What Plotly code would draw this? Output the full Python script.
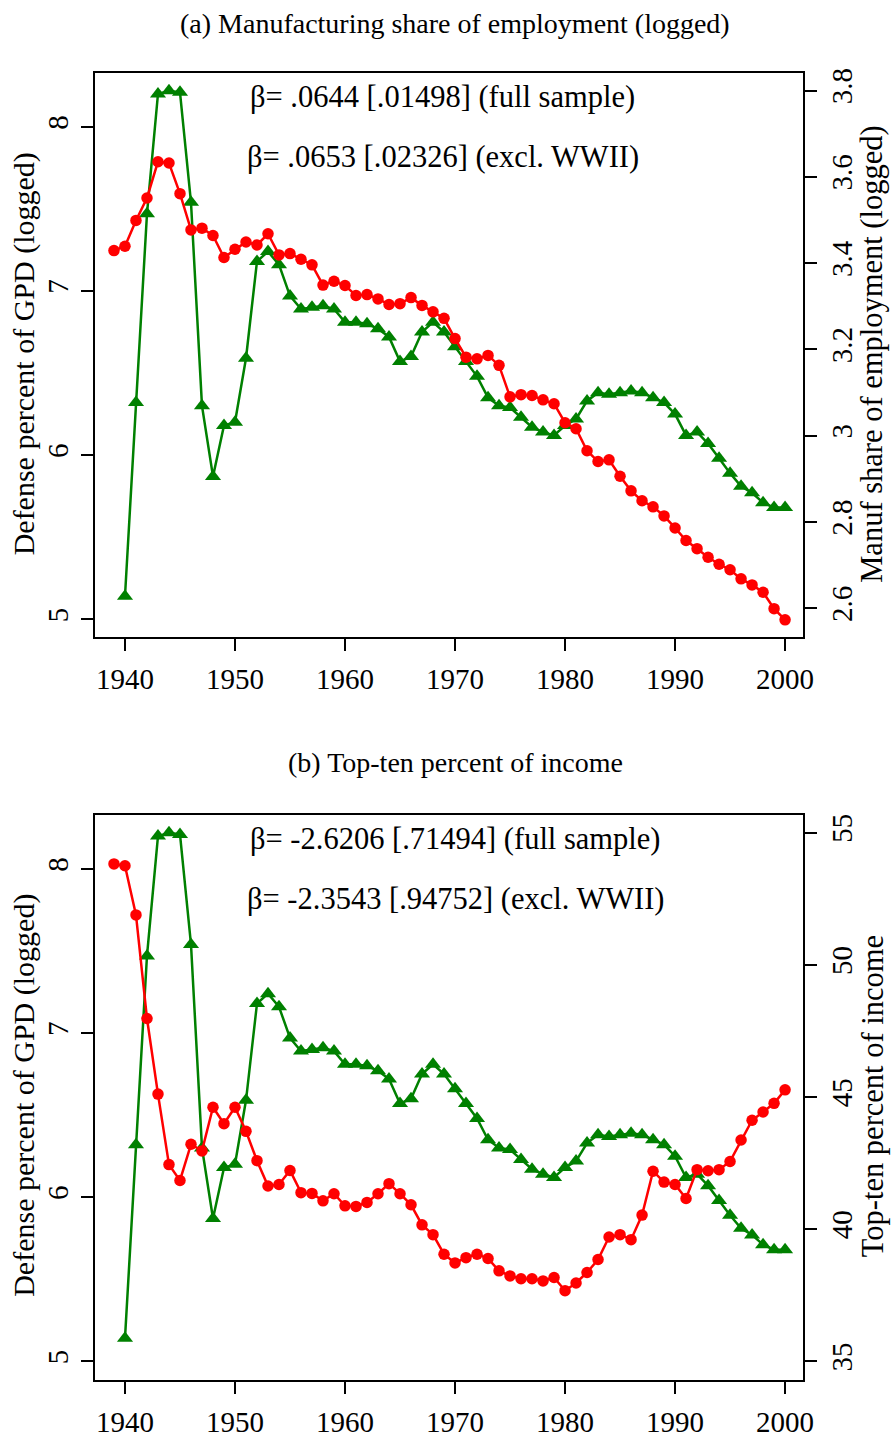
import plotly.graph_objects as go

years_def = list(range(1940, 2001))
defense_log = [5.14, 6.32, 7.47, 8.20, 8.22, 8.21, 7.54, 6.30, 5.87, 6.18,
               6.20, 6.59, 7.18, 7.24, 7.16, 6.97, 6.89, 6.90, 6.91, 6.89,
               6.81, 6.81, 6.80, 6.77, 6.72, 6.57, 6.60, 6.75, 6.81, 6.75,
               6.66, 6.57, 6.48, 6.35, 6.30, 6.29, 6.23, 6.17, 6.14, 6.12,
               6.18, 6.22, 6.33, 6.38, 6.37, 6.38, 6.39, 6.38, 6.35, 6.32,
               6.25, 6.12, 6.14, 6.07, 5.98, 5.89, 5.81, 5.77, 5.71, 5.68, 5.68]

years_red = list(range(1939, 2001))
manuf_log = [3.429, 3.439, 3.499, 3.551, 3.635, 3.632, 3.561, 3.477, 3.481, 3.464,
             3.413, 3.432, 3.449, 3.442, 3.468, 3.419, 3.422, 3.409, 3.396, 3.349,
             3.358, 3.348, 3.325, 3.327, 3.317, 3.304, 3.306, 3.320, 3.302, 3.287,
             3.272, 3.225, 3.182, 3.178, 3.186, 3.163, 3.090, 3.095, 3.093, 3.083,
             3.074, 3.030, 3.016, 2.965, 2.940, 2.944, 2.906, 2.872, 2.849, 2.835,
             2.814, 2.786, 2.757, 2.738, 2.718, 2.702, 2.689, 2.668, 2.654, 2.637,
             2.599, 2.573]

top10 = [53.82, 53.75, 51.89, 47.97, 45.11, 42.44, 41.84, 43.21, 42.96, 44.61,
         43.99, 44.61, 43.70, 42.59, 41.63, 41.69, 42.22, 41.38, 41.35, 41.07,
         41.34, 40.88, 40.86, 41.01, 41.34, 41.72, 41.34, 40.92, 40.16, 39.79,
         39.05, 38.72, 38.92, 39.05, 38.89, 38.42, 38.23, 38.12, 38.12, 38.04,
         38.17, 37.67, 37.96, 38.36, 38.85, 39.70, 39.79, 39.60, 40.53, 42.19,
         41.78, 41.69, 41.16, 42.25, 42.21, 42.25, 42.56, 43.37, 44.12, 44.43,
         44.76, 45.27]

x_ticks = [1940, 1950, 1960, 1970, 1980, 1990, 2000]
left_ticks = [5, 6, 7, 8]
manuf_ticks = [2.6, 2.8, 3.0, 3.2, 3.4, 3.6, 3.8]
manuf_labels = ["2.6", "2.8", "3", "3.2", "3.4", "3.6", "3.8"]
top10_ticks = [35, 40, 45, 50, 55]

titles = ["(a) Manufacturing share of employment (logged)",
          "(b) Top-ten percent of income"]
beta_a = ["β= .0644 [.01498] (full sample)", "β= .0653 [.02326] (excl. WWII)"]
beta_b = ["β= -2.6206 [.71494] (full sample)", "β= -2.3543 [.94752] (excl. WWII)"]
left_title = "Defense percent of GPD (logged)"
right_titles = ["Manuf share of employment (logged)", "Top-ten percent of income"]

W, H = 891, 1450
L, R = 95, 803.5
TOP, BOT = 72.7, 1398.3
PH = BOT - TOP


def py2paper(py):
    return (BOT - py) / PH


def px2paper(px):
    return (px - L) / (R - L)


dom_a = [py2paper(645), 1.0]
dom_b = [0.0, py2paper(825)]

RED = "#FF0000"
GREEN = "#008000"
FONT = "Liberation Serif"

fig = go.Figure()

for xa, ya in (("x", "y"), ("x2", "y3")):
    fig.add_trace(go.Scatter(
        x=years_def, y=defense_log, xaxis=xa, yaxis=ya, mode="lines+markers",
        line=dict(color=GREEN, width=2.5),
        marker=dict(symbol="triangle-up", size=14, color=GREEN),
        showlegend=False))

fig.add_trace(go.Scatter(
    x=years_red, y=manuf_log, xaxis="x", yaxis="y2", mode="lines+markers",
    line=dict(color=RED, width=2.5),
    marker=dict(symbol="circle", size=11.5, color=RED), showlegend=False))
fig.add_trace(go.Scatter(
    x=years_red, y=top10, xaxis="x2", yaxis="y4", mode="lines+markers",
    line=dict(color=RED, width=2.5),
    marker=dict(symbol="circle", size=11.5, color=RED), showlegend=False))

tickfont = dict(family=FONT, size=29, color="black")

xcommon = dict(range=[1937.275, 2001.63], tickvals=x_ticks, ticks="outside",
               ticklen=12, tickwidth=1.5, tickcolor="black", showline=True,
               linecolor="black", linewidth=2, mirror=True, showgrid=False,
               zeroline=False, tickfont=tickfont, ticklabelstandoff=3)
ycommon = dict(ticks="outside", ticklen=12, tickwidth=1.5, tickcolor="black",
               showline=True, linecolor="black", linewidth=2, showgrid=False,
               zeroline=False, tickfont=tickfont, tickangle=-90)

fig.update_layout(
    width=W, height=H,
    margin=dict(l=L, r=W - R, t=TOP, b=H - BOT, pad=0),
    paper_bgcolor="white", plot_bgcolor="white",
    xaxis=dict(xcommon, domain=[0, 1], anchor="y"),
    xaxis2=dict(xcommon, domain=[0, 1], anchor="y3"),
    yaxis=dict(ycommon, domain=dom_a, anchor="x", range=[4.89, 8.328],
               tickvals=left_ticks, ticklabelstandoff=1),
    yaxis2=dict(ycommon, overlaying="y", side="right", anchor="x",
                range=[2.5326, 3.8407], tickvals=manuf_ticks, ticktext=manuf_labels),
    yaxis3=dict(ycommon, domain=dom_b, anchor="x2", range=[4.886, 8.330],
                tickvals=left_ticks, ticklabelstandoff=1),
    yaxis4=dict(ycommon, overlaying="y3", side="right", anchor="x2",
                range=[34.29, 55.68], tickvals=top10_ticks),
)

annots = []
annots.append(dict(text=titles[0], x=455, y=22, size=28, angle=0))
annots.append(dict(text=titles[1], x=456, y=772, size=28, angle=0))
for t, yy in zip(beta_a, (97, 158)):
    annots.append(dict(text=t, x=443, y=yy, size=30.5, angle=0))
for t, yy in zip(beta_b, (850, 910)):
    annots.append(dict(text=t, x=456, y=yy, size=30.5, angle=0))
annots.append(dict(text=left_title, x=24, y=358, size=30, angle=-90))
annots.append(dict(text=left_title, x=24, y=1110, size=30, angle=-90))
annots.append(dict(text=right_titles[0], x=873, y=358, size=30.5, angle=-90))
annots.append(dict(text=right_titles[1], x=873, y=1110, size=30.5, angle=-90))

for a in annots:
    fig.add_annotation(
        xref="paper", yref="paper", showarrow=False, xanchor="center",
        yanchor="middle", x=px2paper(a["x"]), y=py2paper(a["y"]),
        text=a["text"], textangle=a["angle"],
        font=dict(family=FONT, size=a["size"], color="black"))

fig.write_html("out.html")
